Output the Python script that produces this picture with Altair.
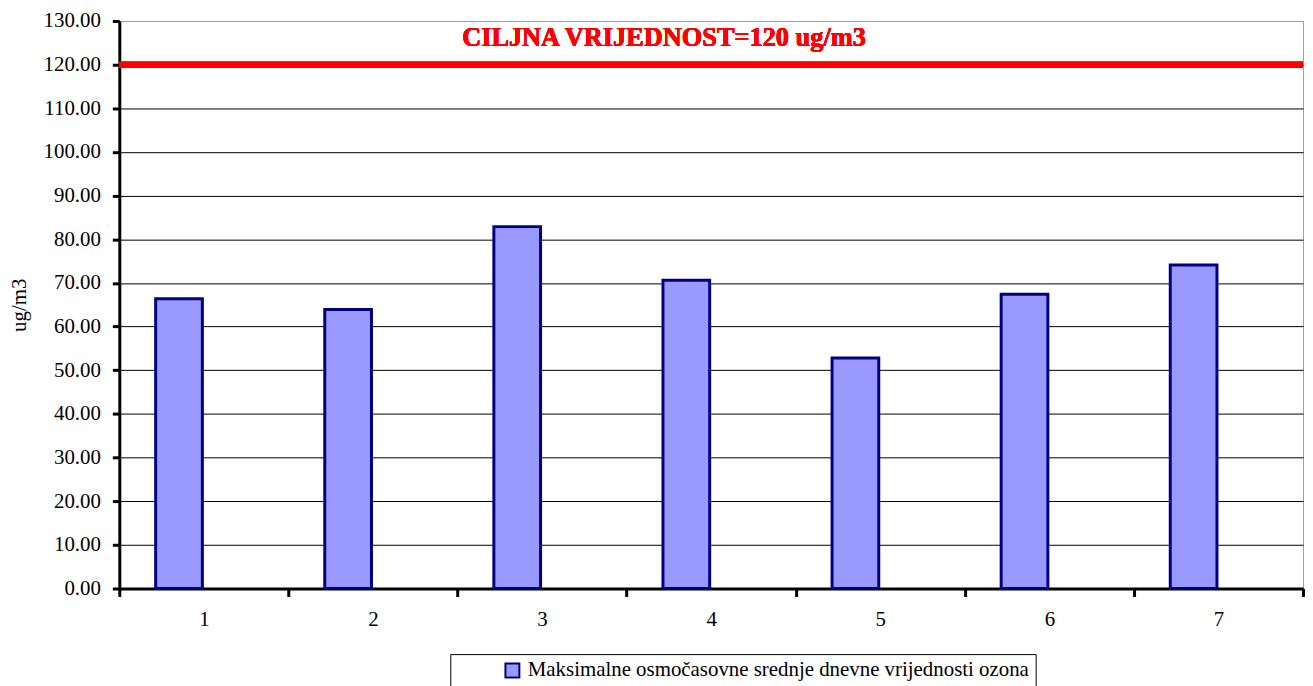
import altair as alt
import pandas as pd

# ---- data ----
categories = ["1", "2", "3", "4", "5", "6", "7"]
values = [66.4, 63.9, 82.9, 70.6, 52.8, 67.4, 74.1]
series_name = "Maksimalne osmočasovne srednje dnevne vrijednosti ozona"
target_value = 120
target_label = "CILJNA VRIJEDNOST=120 ug/m3"
y_ticks = [0, 10, 20, 30, 40, 50, 60, 70, 80, 90, 100, 110, 120, 130]
y_title = "ug/m3"

df = pd.DataFrame({"cat": categories, "value": values, "series": [series_name] * len(categories)})

FONT = "'Liberation Serif', 'Times New Roman', Times, serif"
W, H = 1191, 571

y_scale = alt.Scale(domain=[0, 130], nice=False, zero=True)

x_enc = alt.X(
    "cat:O", sort=categories, title=None,
    scale=alt.Scale(paddingInner=0, paddingOuter=0),
    axis=alt.Axis(labelAngle=0, tickBand="extent", domainColor="black", domainWidth=3,
                  tickColor="black", tickWidth=3, tickSize=8, labelFont=FONT,
                  labelFontSize=21, labelColor="black", labelPadding=12, grid=False),
)

y_axis = alt.Axis(
    values=y_ticks, format=".2f", title=y_title, titleFont=FONT, titleFontSize=21,
    titleFontWeight="normal", titleColor="black", titlePadding=14,
    labelFont=FONT, labelFontSize=21, labelColor="black", labelPadding=12,
    tickSize=7, tickWidth=3, tickColor="black", domainColor="black", domainWidth=3,
    gridColor={"condition": {"test": "datum.value == 130", "value": "#a0a0a0"}, "value": "black"},
    gridWidth=1,
)

bars = alt.Chart(df).mark_bar(size=47, xOffset=-25, stroke="#000080", strokeWidth=3).encode(
    x=x_enc,
    y=alt.Y("value:Q", scale=y_scale, axis=y_axis),
    color=alt.Color(
        "series:N", scale=alt.Scale(range=["#9999ff"]),
        legend=alt.Legend(
            title=None, orient="none", legendX=333, legendY=637,
            symbolType="square", symbolSize=196, symbolStrokeColor="#000080",
            symbolStrokeWidth=2, symbolOpacity=1, symbolOffset=46,
            labelFont=FONT, labelFontSize=21, labelColor="black", labelLimit=2000,
            labelOffset=5, strokeColor="black", padding=6,
        ),
    ),
)

rule = alt.Chart(df).mark_rule(color="#ff0000", strokeWidth=6).encode(
    y=alt.datum(target_value)
)

label = alt.Chart(df).mark_text(
    text=target_label, font=FONT, fontSize=26.5, fontWeight="bold", color="#ff0000",
    align="center", baseline="middle", dy=-27,
).encode(x=alt.value(548), y=alt.datum(target_value))

chart = alt.layer(bars, rule, label).properties(
    width=W, height=H,
    autosize=alt.AutoSizeParams(type="none"),
    padding={"left": 112, "top": 11, "right": 2, "bottom": 96},
    background="white",
).configure_view(stroke="#a0a0a0", strokeWidth=1)

chart.save("out.html", embed_options={"renderer": "svg", "actions": False})
